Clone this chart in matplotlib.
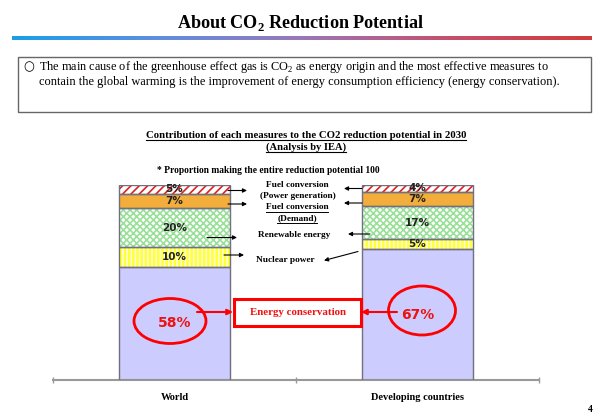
import matplotlib
matplotlib.use('Agg')
import matplotlib.pyplot as plt
from matplotlib.patches import Rectangle, Ellipse
from matplotlib.colors import LinearSegmentedColormap
import numpy as np

# ---------------- data ----------------
categories = ['World', 'Developing countries']
measures = ['Energy conservation', 'Nuclear power', 'Renewable energy',
            'Fuel conversion (Demand)', 'Fuel conversion (Power generation)']
world = [58, 10, 20, 7, 5]
developing = [67, 5, 17, 7, 4]
series = [world, developing]

# ---------------- style ----------------
plt.rcParams['font.family'] = ['Liberation Serif', 'DejaVu Serif']
plt.rcParams['mathtext.fontset'] = 'custom'
plt.rcParams['mathtext.rm'] = 'Liberation Serif'
plt.rcParams['mathtext.bf'] = 'Liberation Serif:bold'
plt.rcParams['hatch.linewidth'] = 1.2

seg_styles = [
    dict(face='#ccccff', hatch=None, hc='#ccccff'),
    dict(face='#ffff3a', hatch='||||', hc='#ffffd0'),
    dict(face='#ffffff', hatch='xxxxx', hc='#99e099'),
    dict(face='#f2ad3a', hatch=None, hc='#f2ad3a'),
    dict(face='#ffffff', hatch='////', hc='#e02020'),
]

W, H = 600, 415
fig = plt.figure(figsize=(W / 100, H / 100), dpi=100)
renderer = fig.canvas.get_renderer()

# bar axes
ax_left, ax_right, ax_bot, ax_top = 53, 539, 380, 184.5
ax = fig.add_axes([ax_left / W, (H - ax_bot) / H, (ax_right - ax_left) / W, (ax_bot - ax_top) / H])
ax.set_xlim(-0.5, 1.5)
ax.set_ylim(0, 100)
ax.patch.set_alpha(0)
for s in ['left', 'top', 'right']:
    ax.spines[s].set_visible(False)
ax.spines['bottom'].set_color('#999999')
ax.spines['bottom'].set_linewidth(1.5)
ax.set_yticks([])
ax.set_xticks([-0.5, 0.5, 1.5])
ax.tick_params(axis='x', direction='inout', length=5, width=1, color='#999999', labelbottom=False)

bar_w = 0.453
for i, vals in enumerate(series):
    bottom = 0
    for j, v in enumerate(vals):
        st = seg_styles[j]
        ax.bar(i, v, bar_w, bottom=bottom, color=st['face'], hatch=st['hatch'],
               edgecolor=st['hc'], linewidth=0, zorder=2)
        ax.bar(i, v, bar_w, bottom=bottom, fill=False, edgecolor='#707080',
               linewidth=1, zorder=3)
        if j == 0:
            ax.text(i, bottom + v / 2, f'{v}%', ha='center', va='center', color='#ee1111',
                    fontsize=10, fontweight='bold', family=['DejaVu Sans'], zorder=6)
        else:
            ax.text(i, bottom + v / 2, f'{v}%', ha='center', va='center', color='#222222',
                    fontsize=7.5, fontweight='bold', family=['DejaVu Sans'], zorder=6)
        bottom += v

for i, c in enumerate(categories):
    ax.text(i, -0.087, c, transform=ax.get_xaxis_transform(), ha='center', va='center',
            fontsize=7.5, fontweight='bold')

# overlay axes in pixel coordinates
ov = fig.add_axes([0, 0, 1, 1], zorder=5)
ov.patch.set_alpha(0)
ov.axis('off')

def fit(t, w):
    bb = t.get_window_extent(renderer)
    t.set_fontsize(t.get_fontsize() * w / bb.width)

def underline(t, lw=0.8):
    bb = t.get_window_extent(renderer)
    y = H - bb.y0 + 0.5
    ov.plot([bb.x0, bb.x1], [y, y], color='black', lw=lw)

# gradient line
cmap = LinearSegmentedColormap.from_list('g', ['#1a9fe8', '#5f8ee0', '#9a78b8', '#c4506e', '#d23c3c'])
ov.imshow(np.linspace(0, 1, 256)[None, :], cmap=cmap, extent=[12, 592, 40, 36.5], aspect='auto')
ov.set_xlim(0, W)
ov.set_ylim(H, 0)

t = ov.text(300, 23, r'About CO$_\mathbf{2}$ Reduction Potential', ha='center', va='center',
            fontsize=14, fontweight='bold')
fit(t, 247)

# text box
ov.add_patch(Rectangle((17.5, 57), 573, 55, fill=False, edgecolor='#666666', lw=1))
ov.text(28.5, 67, '○', ha='center', va='center', fontsize=9, family=['DejaVu Sans'])
t1 = ov.text(39, 67, r'The main cause of the greenhouse effect gas is CO$_2$ as energy origin and the most effective measures to',
             ha='left', va='center', fontsize=9)
fit(t1, 510)
t2 = ov.text(39, 81.5, 'contain the global warming is the improvement of energy consumption efficiency (energy conservation).',
             ha='left', va='center', fontsize=9)
fit(t2, 520)

# chart headings
ct = ov.text(306, 135, 'Contribution of each measures to the CO2 reduction potential in 2030',
             ha='center', va='center', fontsize=8, fontweight='bold')
fit(ct, 320)
underline(ct)
ct2 = ov.text(306, 147, '(Analysis by IEA)', ha='center', va='center', fontsize=8, fontweight='bold')
fit(ct2, 80)
underline(ct2)
pt = ov.text(157, 170, '* Proportion making the entire reduction potential 100', ha='left', va='center',
             fontsize=8, fontweight='bold')
fit(pt, 222)

# middle labels (common size taken from the 'Renewable energy' label width)
probe = ov.text(0, 0, 'Renewable energy', fontsize=6.5, fontweight='bold')
fit(probe, 71)
mid_fs = probe.get_fontsize()
probe.remove()
mid = [
    ('Fuel conversion', 297, 184.5, False),
    ('(Power generation)', 298, 196, False),
    ('Fuel conversion', 297, 207, True),
    ('(Demand)', 297, 218, True),
    ('Renewable energy', 294.5, 234.5, False),
    ('Nuclear power', 285.5, 259.5, False),
]
for txt, x, y, ul in mid:
    m = ov.text(x, y, txt, ha='center', va='center', fontsize=mid_fs, fontweight='bold')
    if ul:
        underline(m, 0.7)

ap = dict(arrowstyle='-|>', color='black', lw=0.8, mutation_scale=6, shrinkA=0, shrinkB=0)
arrows = [
    ((228, 190.5), (247, 190.5)),
    ((228, 204), (247, 204)),
    ((207, 237.5), (237, 237.5)),
    ((224, 255), (244, 255)),
    ((362, 188.5), (344, 188.5)),
    ((362, 203), (344, 203)),
    ((370, 234), (348, 234)),
    ((358, 251.5), (324, 260.5)),
]
for a, b in arrows:
    ov.annotate('', xy=b, xytext=a, arrowprops=ap)

# energy conservation box + ellipses
ov.add_patch(Rectangle((233.5, 298.5), 127, 27, fill=True, facecolor='white',
                       edgecolor='#ff0000', lw=2.2))
ec = ov.text(297.5, 312, 'Energy conservation', ha='center', va='center', color='#ee1111',
             fontsize=8, fontweight='bold')
fit(ec, 96)
ov.add_patch(Ellipse((170, 321), 72, 45, fill=False, edgecolor='#ff0000', lw=2))
ov.add_patch(Ellipse((422, 310.5), 67, 49, fill=False, edgecolor='#ff0000', lw=2))
rp = dict(arrowstyle='-|>', color='#ff0000', lw=1.5, mutation_scale=8, shrinkA=0, shrinkB=0)
ov.annotate('', xy=(233, 312), xytext=(197, 312), arrowprops=rp)
ov.annotate('', xy=(361, 312), xytext=(397, 312), arrowprops=rp)

ov.text(590, 409, '4', ha='center', va='center', fontsize=7, fontweight='bold')

fig.savefig('out.png', dpi=100)
